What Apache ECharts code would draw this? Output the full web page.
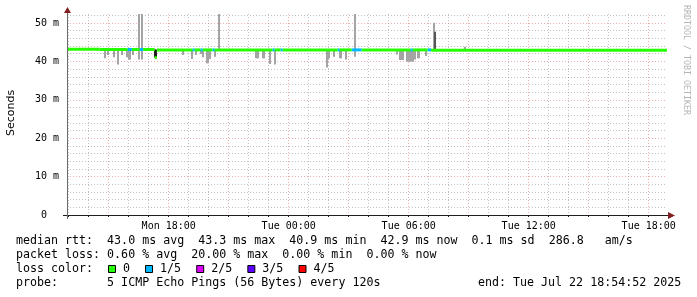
<!DOCTYPE html>
<html><head><meta charset="utf-8">
<script src="https://cdn.jsdelivr.net/npm/echarts@6/dist/echarts.min.js"></script>
<style>html,body{margin:0;padding:0;background:#fff}#c{width:697px;height:297px}</style>
</head><body><div id="c"></div>
<script>
// time axis in hours since Mon 00:00
const startHour = 12.9144;   // Mon 12:54:52
const endHour = 42.9144;     // Tue 18:54:52
const yMax = 52.35;          // ms
const xGridHours = [13,14,15,16,17,18,19,20,21,22,23,24,25,26,27,28,29,30,31,32,33,34,35,36,37,38,39,40,41,42];
const xLabelHours = [18,24,30,36,42];
const xLabels = ['Mon 18:00','Tue 00:00','Tue 06:00','Tue 12:00','Tue 18:00'];
const lossLabels = ['0','1/5','2/5','3/5','4/5'];
const lossColors = ['#26ff00','#00b8ff','#dd00ff','#5e00ff','#ff0000'];
// median segments: [fromHour, toHour, median ms, loss level]
const medianSegs = [
  [12.91,14.55,43.2,0],[14.55,15.95,43.1,0],[15.95,16.16,43.1,1],[16.16,16.55,43.1,0],
  [16.55,16.72,43.1,1],[16.72,17.30,43.1,0],[17.30,17.40,41.0,0],[17.40,19.20,43.0,0],
  [19.20,19.30,43.0,1],[19.30,19.60,43.0,0],[19.60,19.70,43.0,1],[19.70,20.20,43.0,0],
  [20.20,20.30,43.0,1],[20.30,23.20,43.0,0],[23.20,23.30,43.0,1],[23.30,23.60,43.0,0],
  [23.60,23.70,43.0,1],[23.70,26.45,43.0,0],[26.45,26.55,43.0,1],[26.55,27.15,43.0,0],
  [27.15,27.65,43.0,1],[27.65,30.10,43.0,0],[30.10,30.20,43.0,1],[30.20,30.95,43.0,0],
  [30.95,31.12,43.0,1],[31.12,42.91,42.9,0]
];
// smoke: [hour, low ms, high ms, shade]
const smoke = [
  [14.81,40.8,43.1,0],[14.96,41.7,43.1,0],[15.26,41.1,43.1,0],[15.46,39.2,43.1,0],
  [15.66,41.7,43.1,0],[15.91,41.1,43.1,0],[16.01,40.5,43.1,0],[16.06,40.5,43.1,0],
  [16.21,41.7,43.1,0],[16.51,40.5,52.35,0],[16.66,40.5,52.35,0],[17.31,41.0,43.1,2],
  [17.36,41.0,43.1,2],[18.71,41.7,43.0,0],[19.16,40.6,43.0,0],[19.36,41.7,43.0,0],
  [19.61,41.9,43.0,0],[19.71,41.1,43.0,0],[19.91,39.5,43.0,0],[19.96,39.5,43.0,0],
  [20.06,40.6,43.0,0],[20.31,41.2,43.0,0],[20.51,43.0,52.35,0],[22.36,40.8,43.0,0],
  [22.41,40.8,43.0,0],[22.46,40.8,43.0,0],[22.71,40.8,43.0,0],[22.76,40.8,43.0,0],
  [23.06,39.3,43.0,0],[23.31,39.2,43.0,0],[25.91,38.4,43.0,0],[25.96,40.5,43.0,0],
  [26.01,40.8,43.0,0],[26.26,41.2,43.0,0],[26.56,40.8,43.0,0],[26.61,40.8,43.0,0],
  [26.86,40.5,43.0,0],[27.31,41.2,52.35,0],[29.41,41.8,43.0,0],[29.56,40.4,43.0,0],
  [29.61,40.4,43.0,0],[29.66,40.8,43.0,0],[29.71,40.4,43.0,0],[29.91,39.9,43.0,0],
  [29.96,40.3,43.0,0],[30.01,39.9,43.0,0],[30.06,40.5,43.0,0],[30.11,39.9,43.0,0],
  [30.16,40.3,43.0,0],[30.21,39.9,43.0,0],[30.26,40.8,43.0,0],[30.31,40.5,43.0,0],
  [30.46,40.8,43.0,0],[30.51,40.8,43.0,0],[30.86,41.4,43.0,0],[31.26,43.0,50.1,0],
  [31.31,43.0,47.7,1],[32.81,43.0,43.8,0]
];
const statLines = [
  'median rtt:  43.0 ms avg  43.3 ms max  40.9 ms min  42.9 ms now  0.1 ms sd  286.8   am/s',
  'packet loss: 0.60 % avg  20.00 % max  0.00 % min  0.00 % now'
];
const lossTitle = 'loss color:';
const probeText = 'probe:       5 ICMP Echo Pings (56 Bytes) every 120s';
const endText = 'end: Tue Jul 22 18:54:52 2025';
const yTitle = 'Seconds';
const watermark = 'RRDTOOL / TOBI OETIKER';

const smokeShades = ['#a4a4a4','#555555','#222222'];
const GRID = 'rgba(143,143,143,0.55)';
const MGRID = 'rgba(222,79,79,0.45)';
const MONO = '"DejaVu Sans Mono", monospace';
const chart = echarts.init(document.getElementById('c'), null, {renderer:'canvas'});

const g = [];
const rowY = [241, 255, 269, 283];
g.push({type:'text', style:{text:statLines[0], x:16, y:rowY[0], font:'11.65px '+MONO, fill:'#000', verticalAlign:'middle'}});
g.push({type:'text', style:{text:statLines[1], x:16, y:rowY[1], font:'11.65px '+MONO, fill:'#000', verticalAlign:'middle'}});
g.push({type:'text', style:{text:lossTitle, x:16, y:rowY[2], font:'11.65px '+MONO, fill:'#000', verticalAlign:'middle'}});
let bx = 108;
lossLabels.forEach((l,i)=>{
  g.push({type:'rect', shape:{x:bx+0.5, y:rowY[2]-3.5, width:7, height:7}, style:{fill:lossColors[i], stroke:'#000', lineWidth:1}});
  const tx = bx + 15;
  g.push({type:'text', style:{text:l, x:tx, y:rowY[2], font:'11.65px '+MONO, fill:'#000', verticalAlign:'middle'}});
  bx = tx + l.length*7.05 + 15;
});
g.push({type:'text', style:{text:probeText, x:16, y:rowY[3], font:'11.65px '+MONO, fill:'#000', verticalAlign:'middle'}});
g.push({type:'text', style:{text:endText, x:478, y:rowY[3], font:'11.65px '+MONO, fill:'#000', verticalAlign:'middle'}});
g.push({type:'text', x:11, y:113, rotation:Math.PI/2, style:{text:yTitle, x:0, y:0, font:'11px "DejaVu Sans", sans-serif', fill:'#000', align:'center', verticalAlign:'middle'}});
g.push({type:'text', x:686, y:5, rotation:-Math.PI/2, style:{text:watermark, x:0, y:0, font:'8.3px '+MONO, fill:'#b4b4b4', align:'left', verticalAlign:'middle'}});
// axis overshoot + arrows
g.push({type:'line', shape:{x1:63, y1:215.5, x2:669, y2:215.5}, style:{stroke:'#1f1f1f', lineWidth:1}, z:50});
g.push({type:'line', shape:{x1:67.5, y1:219, x2:67.5, y2:12}, style:{stroke:'#6a6a6a', lineWidth:1}, z:50});
g.push({type:'polygon', shape:{points:[[668,212],[675,215.5],[668,219]]}, style:{fill:'#801f1f'}, z:51});
g.push({type:'polygon', shape:{points:[[64,13],[67.5,7],[71,13]]}, style:{fill:'#801f1f'}, z:51});

chart.setOption({
  animation:false,
  backgroundColor:'#fff',
  grid:{left:67, right:30, top:14, bottom:82, containLabel:false},
  xAxis:{type:'value', min:startHour, max:endHour,
    axisLine:{show:false},
    axisTick:{show:true, customValues:xGridHours, length:2, lineStyle:{color:'#1f1f1f'}},
    axisLabel:{customValues:xLabelHours, margin:6, fontFamily:MONO, fontSize:10, color:'#000',
      formatter:(v)=>{const i=xLabelHours.indexOf(Math.round(v)); return i>=0?xLabels[i]:'';}},
    splitLine:{show:true, lineStyle:{color:[GRID,GRID,MGRID], type:[1,2], width:1}}
  },
  yAxis:{type:'value', min:0, max:yMax, interval:2,
    axisLine:{show:false},
    axisTick:{show:false},
    axisLabel:{margin:8, fontFamily:MONO, fontSize:10, color:'#000',
      formatter:(v)=>{ if (Math.abs(v%10)>1e-6) return ''; return v===0?'0  ':(v+' m'); }},
    splitLine:{show:true, showMaxLine:false, lineStyle:{color:[MGRID,GRID,GRID,GRID,GRID], type:[1,2], width:1}}
  },
  graphic:g,
  series:[
    {type:'custom', name:'smoke', clip:true, encode:{x:0, y:[1,2]}, data:smoke,
      renderItem:(p, api)=>{
        const a = api.coord([api.value(0), api.value(1)]);
        const b = api.coord([api.value(0), api.value(2)]);
        const w = Math.max(2, Math.round(api.size([0.05,0])[0]));
        return {type:'rect', shape:{x:Math.round(a[0]-w/2), y:b[1], width:w, height:a[1]-b[1]},
          style:{fill:smokeShades[api.value(3)]}};
      }},
    {type:'custom', name:'median', clip:true, encode:{x:[0,1], y:2}, data:medianSegs,
      renderItem:(p, api)=>{
        const a = api.coord([api.value(0), api.value(2)]);
        const b = api.coord([api.value(1), api.value(2)]);
        return {type:'rect', shape:{x:a[0], y:a[1]-1.5, width:b[0]-a[0], height:3},
          style:{fill:lossColors[api.value(3)]}};
      }}
  ]
});
</script></body></html>
